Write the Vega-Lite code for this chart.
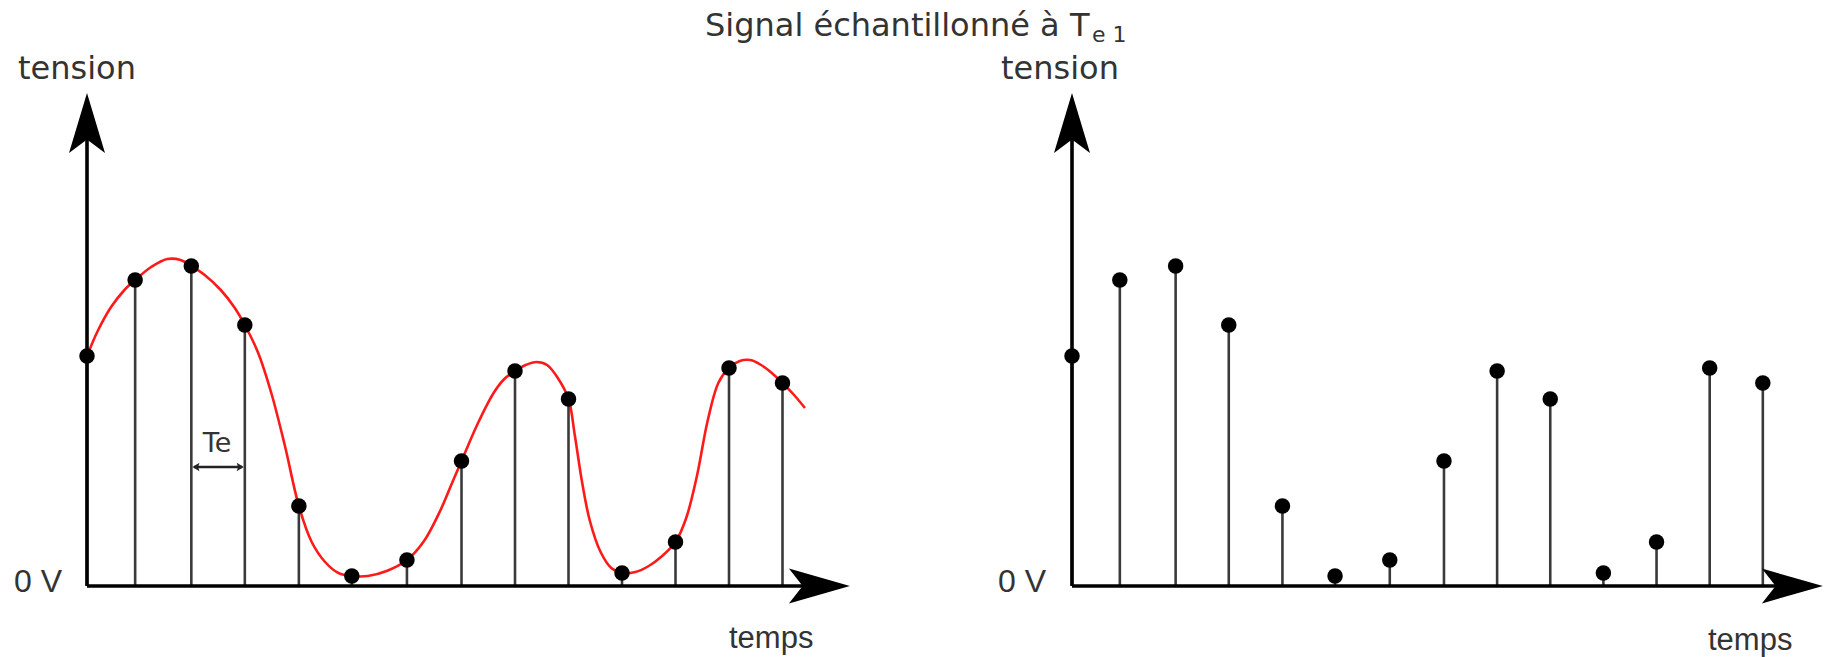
{
  "$schema": "https://vega.github.io/schema/vega-lite/v6.json",
  "padding": 0,
  "spacing": 0,
  "bounds": "flush",
  "background": "white",
  "config": {"view": {"stroke": null}},
  "datasets": {
    "samples": [
      {"t": 0, "v": 230, "base": 0}, {"t": 0.9, "v": 306, "base": 0}, {"t": 1.95, "v": 320, "base": 0}, {"t": 2.95, "v": 261, "base": 0},
      {"t": 3.96, "v": 80, "base": 0}, {"t": 4.95, "v": 10, "base": 0}, {"t": 5.98, "v": 26, "base": 0}, {"t": 7.0, "v": 125, "base": 0},
      {"t": 8.0, "v": 215, "base": 0}, {"t": 9.0, "v": 187, "base": 0}, {"t": 10.0, "v": 13, "base": 0}, {"t": 11.0, "v": 44, "base": 0},
      {"t": 12.0, "v": 218, "base": 0}, {"t": 13.0, "v": 203, "base": 0}
    ],
    "curve": [
      {"t": 0, "v": 230}, {"t": 0.2, "v": 255}, {"t": 0.45, "v": 279}, {"t": 0.7, "v": 296},
      {"t": 0.9, "v": 306}, {"t": 1.2, "v": 319}, {"t": 1.5, "v": 327}, {"t": 1.75, "v": 326},
      {"t": 1.95, "v": 320}, {"t": 2.2, "v": 311}, {"t": 2.5, "v": 296}, {"t": 2.75, "v": 279},
      {"t": 2.95, "v": 261}, {"t": 3.2, "v": 233}, {"t": 3.45, "v": 192}, {"t": 3.7, "v": 140},
      {"t": 3.96, "v": 80}, {"t": 4.2, "v": 44}, {"t": 4.45, "v": 24}, {"t": 4.7, "v": 13},
      {"t": 4.95, "v": 10}, {"t": 5.25, "v": 10}, {"t": 5.6, "v": 15}, {"t": 5.98, "v": 26},
      {"t": 6.3, "v": 45}, {"t": 6.6, "v": 75}, {"t": 6.8, "v": 100}, {"t": 7.0, "v": 125},
      {"t": 7.3, "v": 162}, {"t": 7.6, "v": 193}, {"t": 7.8, "v": 207}, {"t": 8.0, "v": 215},
      {"t": 8.2, "v": 221}, {"t": 8.4, "v": 224}, {"t": 8.6, "v": 221}, {"t": 8.8, "v": 208},
      {"t": 9.0, "v": 187}, {"t": 9.12, "v": 150}, {"t": 9.25, "v": 105}, {"t": 9.4, "v": 65},
      {"t": 9.6, "v": 34}, {"t": 9.8, "v": 18}, {"t": 10.0, "v": 13}, {"t": 10.25, "v": 14},
      {"t": 10.5, "v": 20}, {"t": 10.75, "v": 30}, {"t": 11.0, "v": 44}, {"t": 11.2, "v": 68},
      {"t": 11.4, "v": 110}, {"t": 11.6, "v": 165}, {"t": 11.8, "v": 203}, {"t": 12.0, "v": 218},
      {"t": 12.2, "v": 225}, {"t": 12.4, "v": 226}, {"t": 12.6, "v": 221}, {"t": 12.8, "v": 213},
      {"t": 13.0, "v": 203}, {"t": 13.2, "v": 192}, {"t": 13.42, "v": 178}
    ]
  },
  "hconcat": [
    {
      "width": 914,
      "height": 657,
      "layer": [
        {
          "data": {"name": "curve"},
          "mark": {"type": "line", "color": "#ff1a1a", "strokeWidth": 2.6, "interpolate": "catmull-rom"},
          "encoding": {
            "x": {"field": "t", "type": "quantitative", "scale": {"domain": [-1.6262, 15.4579], "nice": false, "zero": false}, "axis": null},
            "y": {"field": "v", "type": "quantitative", "scale": {"domain": [-71, 586], "nice": false, "zero": false}, "axis": null}
          }
        },
        {
          "data": {"name": "samples"},
          "mark": {"type": "rule", "color": "#3a3a3a", "strokeWidth": 2.6},
          "encoding": {
            "x": {"field": "t", "type": "quantitative", "axis": null},
            "y": {"field": "v", "type": "quantitative", "axis": null},
            "y2": {"field": "base"}
          }
        },
        {
          "data": {"values": [{"t": 0, "v": 0, "v2": 455}]},
          "mark": {"type": "rule", "color": "black", "strokeWidth": 3.6},
          "encoding": {
            "x": {"field": "t", "type": "quantitative", "axis": null},
            "y": {"field": "v", "type": "quantitative", "axis": null},
            "y2": {"field": "v2"}
          }
        },
        {
          "data": {"values": [{"t": 0, "t2": 13.85, "v": 0}]},
          "mark": {"type": "rule", "color": "black", "strokeWidth": 3.6},
          "encoding": {
            "x": {"field": "t", "type": "quantitative", "axis": null},
            "x2": {"field": "t2"},
            "y": {"field": "v", "type": "quantitative", "axis": null}
          }
        },
        {
          "data": {"values": [{"t": 0, "v": 493}]},
          "mark": {"type": "point", "shape": "M0,0L0.6,2L0,1.55L-0.6,2Z", "filled": true, "color": "black", "opacity": 1, "size": 3600, "strokeWidth": 0},
          "encoding": {
            "x": {"field": "t", "type": "quantitative", "axis": null},
            "y": {"field": "v", "type": "quantitative", "axis": null}
          }
        },
        {
          "data": {"values": [{"t": 14.26, "v": 0}]},
          "mark": {"type": "point", "shape": "M0,0L-2,-0.57L-1.55,0L-2,0.57Z", "filled": true, "color": "black", "opacity": 1, "size": 3721, "strokeWidth": 0},
          "encoding": {
            "x": {"field": "t", "type": "quantitative", "axis": null},
            "y": {"field": "v", "type": "quantitative", "axis": null}
          }
        },
        {
          "data": {"values": [{"t": 2.0, "t2": 2.9, "v": 119}]},
          "mark": {"type": "rule", "color": "#222222", "strokeWidth": 2.4},
          "encoding": {
            "x": {"field": "t", "type": "quantitative", "axis": null},
            "x2": {"field": "t2"},
            "y": {"field": "v", "type": "quantitative", "axis": null}
          }
        },
        {
          "data": {"values": [{"t": 1.97, "v": 119}]},
          "mark": {"type": "point", "shape": "M0,0L2,-1.2L1.6,0L2,1.2Z", "filled": true, "color": "#222222", "opacity": 1, "size": 50, "strokeWidth": 0},
          "encoding": {
            "x": {"field": "t", "type": "quantitative", "axis": null},
            "y": {"field": "v", "type": "quantitative", "axis": null}
          }
        },
        {
          "data": {"values": [{"t": 2.93, "v": 119}]},
          "mark": {"type": "point", "shape": "M0,0L-2,-1.2L-1.6,0L-2,1.2Z", "filled": true, "color": "#222222", "opacity": 1, "size": 50, "strokeWidth": 0},
          "encoding": {
            "x": {"field": "t", "type": "quantitative", "axis": null},
            "y": {"field": "v", "type": "quantitative", "axis": null}
          }
        },
        {
          "data": {"name": "samples"},
          "mark": {"type": "point", "shape": "circle", "filled": true, "color": "black", "opacity": 1, "size": 240, "strokeWidth": 0},
          "encoding": {
            "x": {"field": "t", "type": "quantitative", "axis": null},
            "y": {"field": "v", "type": "quantitative", "axis": null}
          }
        },
        {
          "data": {"values": [{"t": -1.29, "v": 507, "label": "tension"}]},
          "mark": {"type": "text", "font": "DejaVu Sans", "fontSize": 32, "color": "#333333", "align": "left", "baseline": "alphabetic"},
          "encoding": {
            "x": {"field": "t", "type": "quantitative", "axis": null},
            "y": {"field": "v", "type": "quantitative", "axis": null},
            "text": {"field": "label", "type": "nominal"}
          }
        },
        {
          "data": {"values": [{"t": 2.43, "v": 134, "label": "Te"}]},
          "mark": {"type": "text", "font": "DejaVu Sans", "fontSize": 27, "color": "#333333", "align": "center", "baseline": "alphabetic"},
          "encoding": {
            "x": {"field": "t", "type": "quantitative", "axis": null},
            "y": {"field": "v", "type": "quantitative", "axis": null},
            "text": {"field": "label", "type": "nominal"}
          }
        },
        {
          "data": {"values": [{"t": -0.467, "v": -6, "label": "0 V"}]},
          "mark": {"type": "text", "font": "Liberation Sans", "fontSize": 32, "color": "#333333", "align": "right", "baseline": "alphabetic"},
          "encoding": {
            "x": {"field": "t", "type": "quantitative", "axis": null},
            "y": {"field": "v", "type": "quantitative", "axis": null},
            "text": {"field": "label", "type": "nominal"}
          }
        },
        {
          "data": {"values": [{"t": 12.0, "v": -62, "label": "temps"}]},
          "mark": {"type": "text", "font": "Liberation Sans", "fontSize": 31, "color": "#333333", "align": "left", "baseline": "alphabetic"},
          "encoding": {
            "x": {"field": "t", "type": "quantitative", "axis": null},
            "y": {"field": "v", "type": "quantitative", "axis": null},
            "text": {"field": "label", "type": "nominal"}
          }
        },
        {
          "data": {"values": [{"t": 11.551, "v": 550, "label": "Signal échantillonné à T"}]},
          "mark": {"type": "text", "font": "DejaVu Sans", "fontSize": 32, "color": "#333333", "align": "left", "baseline": "alphabetic"},
          "encoding": {
            "x": {"field": "t", "type": "quantitative", "axis": null},
            "y": {"field": "v", "type": "quantitative", "axis": null},
            "text": {"field": "label", "type": "nominal"}
          }
        },
        {
          "data": {"values": [{"t": 18.785, "v": 544, "label": "e 1"}]},
          "mark": {"type": "text", "font": "DejaVu Sans", "fontSize": 22, "color": "#333333", "align": "left", "baseline": "alphabetic"},
          "encoding": {
            "x": {"field": "t", "type": "quantitative", "axis": null},
            "y": {"field": "v", "type": "quantitative", "axis": null},
            "text": {"field": "label", "type": "nominal"}
          }
        }
      ]
    },
    {
      "width": 915,
      "height": 657,
      "layer": [
        {
          "data": {"name": "samples"},
          "mark": {"type": "rule", "color": "#3a3a3a", "strokeWidth": 2.6},
          "encoding": {
            "x": {"field": "t", "type": "quantitative", "scale": {"domain": [-2.9733, 14.2454], "nice": false, "zero": false}, "axis": null},
            "y": {"field": "v", "type": "quantitative", "scale": {"domain": [-71, 586], "nice": false, "zero": false}, "axis": null},
            "y2": {"field": "base"}
          }
        },
        {
          "data": {"values": [{"t": 0, "v": 0, "v2": 455}]},
          "mark": {"type": "rule", "color": "black", "strokeWidth": 3.6},
          "encoding": {
            "x": {"field": "t", "type": "quantitative", "axis": null},
            "y": {"field": "v", "type": "quantitative", "axis": null},
            "y2": {"field": "v2"}
          }
        },
        {
          "data": {"values": [{"t": 0, "t2": 13.75, "v": 0}]},
          "mark": {"type": "rule", "color": "black", "strokeWidth": 3.6},
          "encoding": {
            "x": {"field": "t", "type": "quantitative", "axis": null},
            "x2": {"field": "t2"},
            "y": {"field": "v", "type": "quantitative", "axis": null}
          }
        },
        {
          "data": {"values": [{"t": 0, "v": 493}]},
          "mark": {"type": "point", "shape": "M0,0L0.6,2L0,1.55L-0.6,2Z", "filled": true, "color": "black", "opacity": 1, "size": 3600, "strokeWidth": 0},
          "encoding": {
            "x": {"field": "t", "type": "quantitative", "axis": null},
            "y": {"field": "v", "type": "quantitative", "axis": null}
          }
        },
        {
          "data": {"values": [{"t": 14.13, "v": 0}]},
          "mark": {"type": "point", "shape": "M0,0L-2,-0.57L-1.55,0L-2,0.57Z", "filled": true, "color": "black", "opacity": 1, "size": 3721, "strokeWidth": 0},
          "encoding": {
            "x": {"field": "t", "type": "quantitative", "axis": null},
            "y": {"field": "v", "type": "quantitative", "axis": null}
          }
        },
        {
          "data": {"name": "samples"},
          "mark": {"type": "point", "shape": "circle", "filled": true, "color": "black", "opacity": 1, "size": 240, "strokeWidth": 0},
          "encoding": {
            "x": {"field": "t", "type": "quantitative", "axis": null},
            "y": {"field": "v", "type": "quantitative", "axis": null}
          }
        },
        {
          "data": {"values": [{"t": -1.336, "v": 507, "label": "tension"}]},
          "mark": {"type": "text", "font": "DejaVu Sans", "fontSize": 32, "color": "#333333", "align": "left", "baseline": "alphabetic"},
          "encoding": {
            "x": {"field": "t", "type": "quantitative", "axis": null},
            "y": {"field": "v", "type": "quantitative", "axis": null},
            "text": {"field": "label", "type": "nominal"}
          }
        },
        {
          "data": {"values": [{"t": -0.489, "v": -6, "label": "0 V"}]},
          "mark": {"type": "text", "font": "Liberation Sans", "fontSize": 32, "color": "#333333", "align": "right", "baseline": "alphabetic"},
          "encoding": {
            "x": {"field": "t", "type": "quantitative", "axis": null},
            "y": {"field": "v", "type": "quantitative", "axis": null},
            "text": {"field": "label", "type": "nominal"}
          }
        },
        {
          "data": {"values": [{"t": 11.968, "v": -64, "label": "temps"}]},
          "mark": {"type": "text", "font": "Liberation Sans", "fontSize": 31, "color": "#333333", "align": "left", "baseline": "alphabetic"},
          "encoding": {
            "x": {"field": "t", "type": "quantitative", "axis": null},
            "y": {"field": "v", "type": "quantitative", "axis": null},
            "text": {"field": "label", "type": "nominal"}
          }
        }
      ]
    }
  ]
}
